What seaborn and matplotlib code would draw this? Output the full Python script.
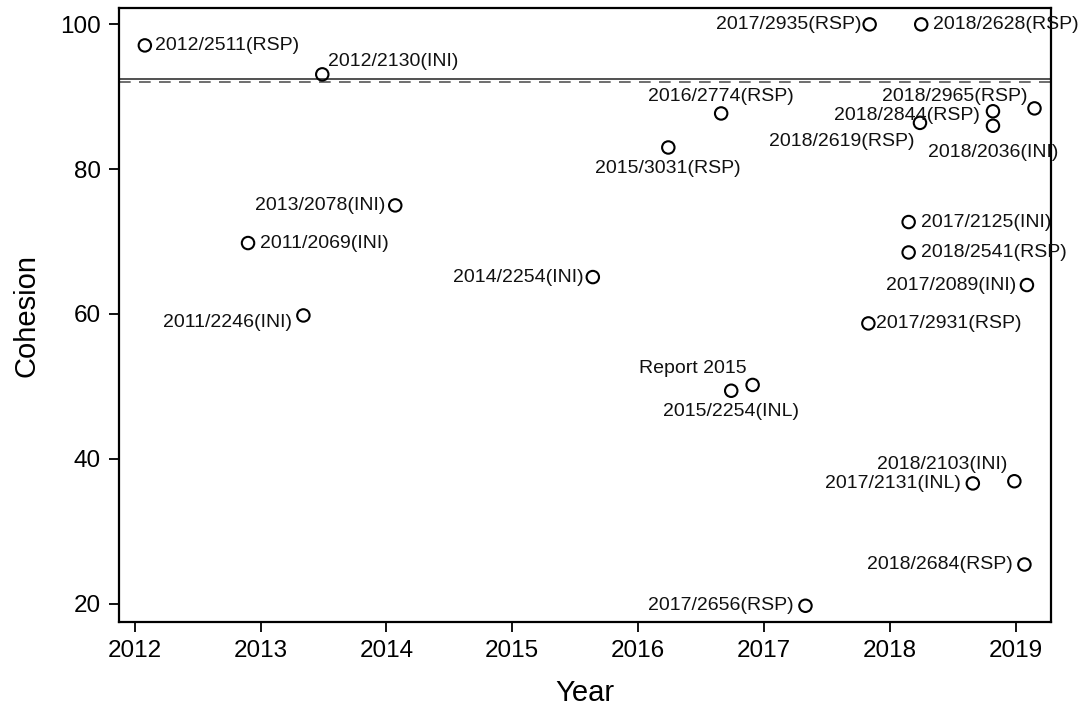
import matplotlib
matplotlib.use("Agg")
import matplotlib.pyplot as plt
import seaborn as sns
import pandas as pd

# ---- data ----
labels = ["2012/2511(RSP)", "2012/2130(INI)", "2013/2078(INI)", "2011/2069(INI)",
          "2011/2246(INI)", "2014/2254(INI)", "2015/3031(RSP)", "2016/2774(RSP)",
          "2017/2935(RSP)", "2018/2628(RSP)", "2018/2619(RSP)", "2018/2844(RSP)",
          "2018/2036(INI)", "2018/2965(RSP)", "2017/2125(INI)", "2018/2541(RSP)",
          "2017/2089(INI)", "2017/2931(RSP)", "Report 2015", "2015/2254(INL)",
          "2018/2103(INI)", "2017/2131(INL)", "2018/2684(RSP)", "2017/2656(RSP)"]
years = [2012.08, 2013.49, 2014.07, 2012.90, 2013.34, 2015.64, 2016.24, 2016.66,
         2017.84, 2018.25, 2018.24, 2018.82, 2018.82, 2019.15, 2018.15, 2018.15,
         2019.09, 2017.83, 2016.91, 2016.74, 2018.99, 2018.66, 2019.07, 2017.33]
cohesion = [97.1, 93.1, 75.0, 69.8, 59.8, 65.1, 83.0, 87.7,
            100.0, 100.0, 86.4, 88.0, 86.0, 88.4, 72.7, 68.5,
            64.0, 58.7, 50.2, 49.4, 36.9, 36.6, 25.4, 19.7]
ref_solid = 92.4
ref_dashed = 92.0
xticks = [2012, 2013, 2014, 2015, 2016, 2017, 2018, 2019]
yticks = [20, 40, 60, 80, 100]

# ---- label placement (style): ha, dx, dy in pixels ----
label_place = [("left", 10, 0), ("left", 6, 13), ("right", -10, 0), ("left", 12, 0),
               ("right", -11, -7), ("right", -9, 0), ("center", 0, -21), ("center", 0, 16.5),
               ("right", -8, 0), ("left", 12, 0), ("right", -5, -19), ("right", -13, -4),
               ("center", 0, -27), ("right", -7, 12), ("left", 12, 0), ("left", 12, 0),
               ("right", -11, 0), ("left", 8, 0), ("right", -6, 16), ("center", 0, -21),
               ("right", -7, 17), ("right", -12, 0), ("right", -12, 0), ("right", -12, 0)]

df = pd.DataFrame({"Year": years, "Cohesion": cohesion, "label": labels})

sns.set_theme(style="ticks")
plt.rcParams["font.family"] = ["Liberation Sans", "DejaVu Sans"]
plt.rcParams["text.color"] = "black"
plt.rcParams["axes.labelcolor"] = "black"

fig = plt.figure(figsize=(10.8, 7.06), dpi=100)
ax = fig.add_axes([0.110, 0.119, 0.863, 0.869])

ax.axhline(ref_solid, color="#333333", lw=1.2, zorder=1)
ax.axhline(ref_dashed, color="#555555", lw=1.2, ls=(0, (7, 5)), zorder=1)

sns.scatterplot(data=df, x="Year", y="Cohesion", ax=ax, marker="o", s=80,
                facecolor="none", edgecolor="black", linewidth=1.5, zorder=3)

for lab, x, y, (ha, dx, dy) in zip(labels, years, cohesion, label_place):
    ax.annotate(lab, (x, y), xytext=(dx, dy), textcoords="offset pixels",
                ha=ha, va="center", fontsize=14, color="#111111")

ax.set_xlim(2011.873, 2019.28)
ax.set_ylim(17.46, 102.2)
ax.set_xticks(xticks)
ax.set_yticks(yticks)
ax.tick_params(axis="both", labelsize=17.5, length=7, width=1.3, color="black",
               labelcolor="black", pad=6)
for sp in ax.spines.values():
    sp.set_visible(True)
    sp.set_color("black")
    sp.set_linewidth(1.6)

ax.set_xlabel("Year", fontsize=21, labelpad=12, color="black")
ax.set_ylabel("Cohesion", fontsize=21, labelpad=14, color="black")

fig.savefig("out.png", dpi=100)
